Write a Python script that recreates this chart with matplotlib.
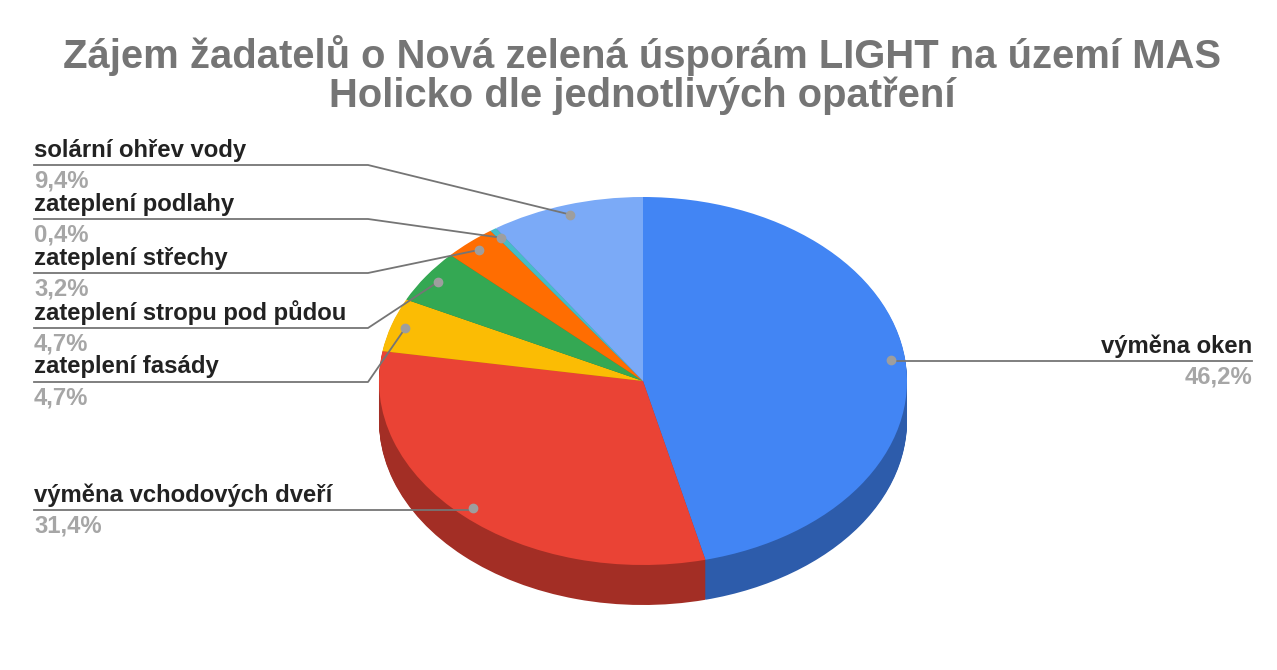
import numpy as np
import matplotlib
matplotlib.use("Agg")
import matplotlib.pyplot as plt

plt.rcParams["font.family"] = ["Liberation Sans", "DejaVu Sans"]

# data
labels = ["výměna oken", "výměna vchodových dveří", "zateplení fasády",
          "zateplení stropu pod půdou", "zateplení střechy",
          "zateplení podlahy", "solární ohřev vody"]
values = [46.2, 31.4, 4.7, 4.7, 3.2, 0.4, 9.4]
colors = ["#4285f4", "#ea4335", "#fbbc04", "#34a853", "#ff6d01", "#46bdc6", "#7baaf7"]
side_colors = ["#2d5cab", "#a32e25", "#af8302", "#24753a", "#b24c00", "#30848a", "#5676ac"]

# label text positions in pixels (centre of the name line)
label_x = [1252, 34, 34, 34, 34, 34, 34]
label_y = [346, 495, 367, 313, 258, 204, 150]
# y of the horizontal leader line
line_y = [361, 510, 382, 328, 273, 219, 165]

W, H = 1277, 670
cx, cy, rx, ry, depth = 643, 381, 264, 184, 40

fig = plt.figure(figsize=(W / 100, H / 100), dpi=100)
ax = fig.add_axes([0, 0, 1, 1])

# pixel -> data helpers, pie sits at 0,0 with radius 1
px = lambda x: (x - cx) / rx
py = lambda y: (cy - y) / ry

# side of the pie: darker copies stacked downward
for d in range(depth, 0, -1):
    ax.pie(values, colors=side_colors, startangle=90, counterclock=False,
           center=(0, -d / ry), radius=1, frame=True)
ax.pie(values, colors=colors, startangle=90, counterclock=False,
       center=(0, 0), radius=1, frame=True)

ax.set_aspect("auto")
ax.set_xlim(px(0), px(W))
ax.set_ylim(py(H), py(0))
ax.axis("off")

# leader lines, dots and labels
edges = np.cumsum([0] + values) / sum(values)
for i, name in enumerate(labels):
    mid = (edges[i] + edges[i + 1]) / 2 * 2 * np.pi
    dx = 0.945 * np.sin(mid)
    dy = 0.945 * np.cos(mid)
    if i == 0:
        xs = [dx, px(label_x[i])]
        ys = [py(line_y[i]), py(line_y[i])]
        ha = "right"
    elif i == 1:
        xs = [px(label_x[i]), dx]
        ys = [py(line_y[i]), py(line_y[i])]
        ha = "left"
    else:
        xs = [px(label_x[i]), px(368), dx]
        ys = [py(line_y[i]), py(line_y[i]), dy]
        ha = "left"
    ax.plot(xs, ys, color="#757575", lw=1.3, zorder=5)
    ax.plot([dx], [dy], "o", color="#9e9e9e", ms=6, zorder=6)
    ax.text(px(label_x[i]), py(label_y[i]), name, ha=ha, va="center",
            fontsize=17.2, fontweight="bold", color="#222222", zorder=7)
    ax.text(px(label_x[i]), py(label_y[i] + 31), f"{values[i]:.1f}".replace(".", ","
            ) + "%", ha=ha, va="center", fontsize=17.2, fontweight="bold",
            color="#a6a6a6", zorder=7)

fig.text(642.5 / W, 1 - 75 / H, "Zájem žadatelů o Nová zelená úsporám LIGHT na území MAS\nHolicko dle jednotlivých opatření",
         ha="center", va="center", fontsize=28.85, fontweight="bold",
         color="#757575", linespacing=1.0)

fig.savefig("out.png", dpi=100)
